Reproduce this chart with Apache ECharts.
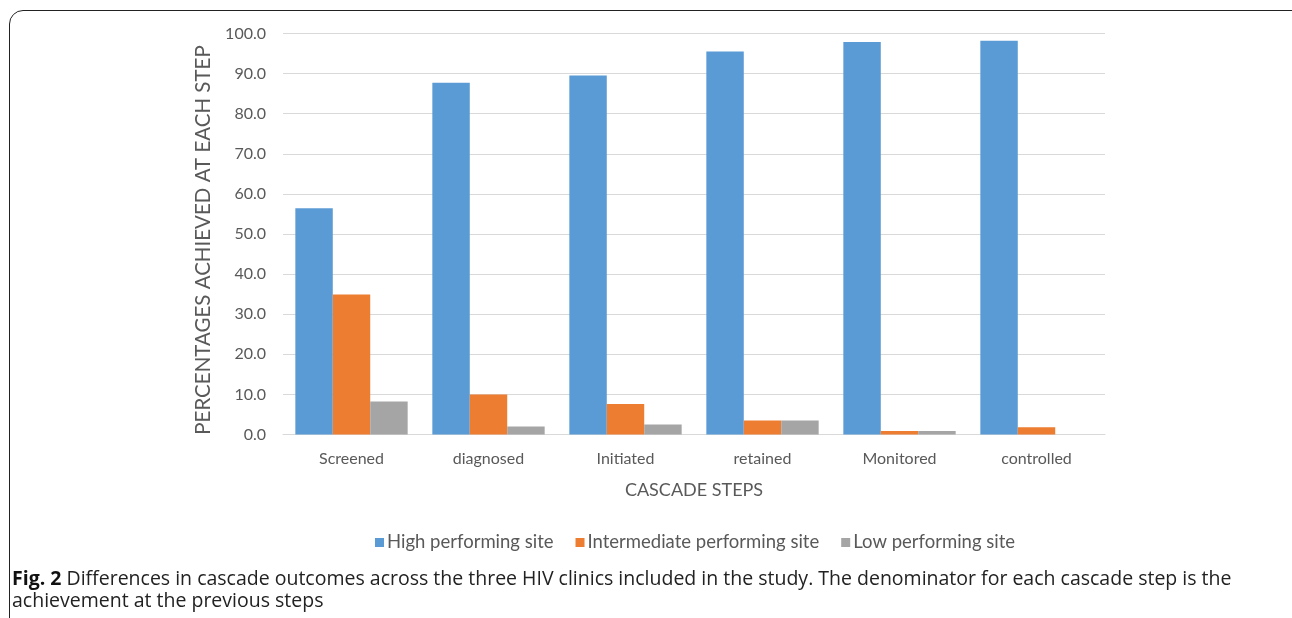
<!DOCTYPE html>
<html>
<head>
<meta charset="utf-8">
<script src="https://cdn.jsdelivr.net/npm/echarts@6/dist/echarts.min.js"></script>
<style>
  html, body { margin: 0; padding: 0; background: #fff; overflow: hidden; }
  #wrap { position: relative; width: 1292px; height: 618px; }
  #chart { position: absolute; left: 0; top: 0; width: 1292px; height: 618px; }
  #frame { position: absolute; left: 9px; top: 10px; width: 1320px; height: 660px;
           border: 1.5px solid #222; border-radius: 14px; box-sizing: border-box; pointer-events: none; }
  #caption { position: absolute; left: 12px; top: 567px; font-family: "Open Sans", sans-serif;
             font-size: 19.5px; line-height: 22px; color: #222; white-space: nowrap; letter-spacing: 0px; }
  #caption b { color: #111; }
</style>
</head>
<body>
<div id="wrap">
  <div id="chart"></div>
  <div id="frame"></div>
  <div id="caption"><b>Fig. 2</b> Differences in cascade outcomes across the three HIV clinics included in the study. The denominator for each cascade step is the<br>achievement at the previous steps</div>
</div>
<script>
const categories = ["Screened", "diagnosed", "Initiated", "retained", "Monitored", "controlled"];
const seriesNames = ["High performing site", "Intermediate performing site", "Low performing site"];
const highSite = [56.4, 87.7, 89.5, 95.5, 97.9, 98.2];
const intermediateSite = [34.9, 10.0, 7.6, 3.5, 0.9, 1.8];
const lowSite = [8.2, 2.0, 2.5, 3.5, 0.9, 0.0];
const colors = ["#5b9bd5", "#ed7d31", "#a5a5a5"];

const chart = echarts.init(document.getElementById('chart'), null, { renderer: 'canvas' });
const textColor = '#595959';
const font = 'Lato, "Open Sans", sans-serif';
chart.setOption({
  animation: false,
  color: colors,
  textStyle: { fontFamily: font },
  grid: { left: 283, right: 187, top: 33.5, bottom: 183.5 },
  legend: {
    data: seriesNames, top: 528, left: 370,
    itemWidth: 9, itemHeight: 9, itemGap: 22, icon: 'rect',
    textStyle: { color: textColor, fontSize: 18.5, fontFamily: font, padding: [0, 0, 0, -2] }
  },
  xAxis: {
    type: 'category', data: categories,
    name: 'CASCADE STEPS', nameLocation: 'middle', nameGap: 47,
    nameTextStyle: { color: textColor, fontSize: 18, fontFamily: font },
    axisLine: { lineStyle: { color: '#d9d9d9', width: 1 } },
    axisTick: { show: false },
    axisLabel: { color: textColor, fontSize: 16, margin: 16, fontFamily: font }
  },
  yAxis: {
    type: 'value', min: 0, max: 100, interval: 10,
    name: 'PERCENTAGES ACHIEVED AT EACH STEP', nameLocation: 'middle', nameGap: 67,
    nameTextStyle: { color: textColor, fontSize: 20.5, fontFamily: font, padding: [0, 12, 0, 0] },
    axisLine: { show: false }, axisTick: { show: false },
    axisLabel: { color: textColor, fontSize: 16, margin: 17, fontFamily: font,
                 formatter: v => v.toFixed(1) },
    splitLine: { lineStyle: { color: '#d9d9d9', width: 1 } }
  },
  series: [
    { name: seriesNames[0], type: 'bar', data: highSite, barGap: '0%', barCategoryGap: '18%' },
    { name: seriesNames[1], type: 'bar', data: intermediateSite, barGap: '0%', barCategoryGap: '18%' },
    { name: seriesNames[2], type: 'bar', data: lowSite, barGap: '0%', barCategoryGap: '18%' }
  ]
});
</script>
</body>
</html>
